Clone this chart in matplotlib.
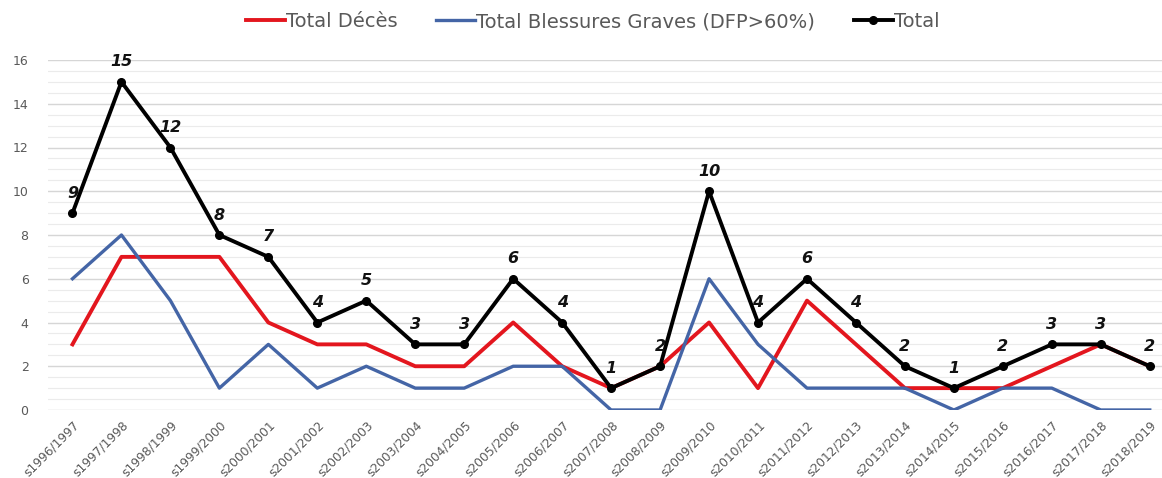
import matplotlib.pyplot as plt
from matplotlib.ticker import MultipleLocator
import numpy as np

# saisons (le premier caractère est tronqué dans l'original)
saisons = ["s1996/1997", "s1997/1998", "s1998/1999", "s1999/2000", "s2000/2001",
           "s2001/2002", "s2002/2003", "s2003/2004", "s2004/2005", "s2005/2006",
           "s2006/2007", "s2007/2008", "s2008/2009", "s2009/2010", "s2010/2011",
           "s2011/2012", "s2012/2013", "s2013/2014", "s2014/2015", "s2015/2016",
           "s2016/2017", "s2017/2018", "s2018/2019"]
deces = [3, 7, 7, 7, 4, 3, 3, 2, 2, 4, 2, 1, 2, 4, 1, 5, 3, 1, 1, 1, 2, 3, 2]
blessures = [6, 8, 5, 1, 3, 1, 2, 1, 1, 2, 2, 0, 0, 6, 3, 1, 1, 1, 0, 1, 1, 0, 0]
total = [9, 15, 12, 8, 7, 4, 5, 3, 3, 6, 4, 1, 2, 10, 4, 6, 4, 2, 1, 2, 3, 3, 2]

x = np.arange(len(saisons))

fig = plt.figure(figsize=(11.62, 4.78), dpi=100)
ax = fig.add_axes([48 / 1162, 68 / 478, 1 - 48 / 1162, 350 / 478])

ax.plot(x, deces, color="#E3161E", linewidth=2.8, label="Total Décès")
ax.plot(x, blessures, color="#4465A6", linewidth=2.4,
        label="Total Blessures Graves (DFP>60%)")
ax.plot(x, total, color="black", linewidth=2.8, marker="o", markersize=5.5,
        label="Total")

# étiquettes de données
for xi, v in zip(x, total):
    ax.annotate(str(v), (xi, v), xytext=(0, 9), textcoords="offset points",
                ha="center", va="bottom", fontsize=11.5, fontweight="bold",
                fontstyle="italic", color="#111111")

ax.set_xlim(-0.5, 22.25)
ax.set_ylim(0, 16)
ax.yaxis.set_major_locator(MultipleLocator(2))
ax.yaxis.set_minor_locator(MultipleLocator(0.5))
ax.grid(axis="y", which="major", color="#D6D6D6", linewidth=1)
ax.grid(axis="y", which="minor", color="#EBEBEB", linewidth=0.8)
ax.set_axisbelow(True)

ax.set_xticks(x)
ax.set_xticklabels(saisons, rotation=45, ha="right", rotation_mode="anchor",
                   fontsize=8.8, color="#595959")
ax.tick_params(axis="y", labelsize=9, labelcolor="#595959", length=0, pad=14)
ax.tick_params(axis="y", which="minor", length=0)
ax.tick_params(axis="x", length=0, pad=6)
for s in ax.spines.values():
    s.set_visible(False)

fig.legend(loc="center", bbox_to_anchor=(0.51, 0.955), ncol=3, frameon=False,
           fontsize=14, labelcolor="#595959", handlelength=2.0,
           handletextpad=0.05, columnspacing=2.0)

fig.savefig("out.png", dpi=100)
